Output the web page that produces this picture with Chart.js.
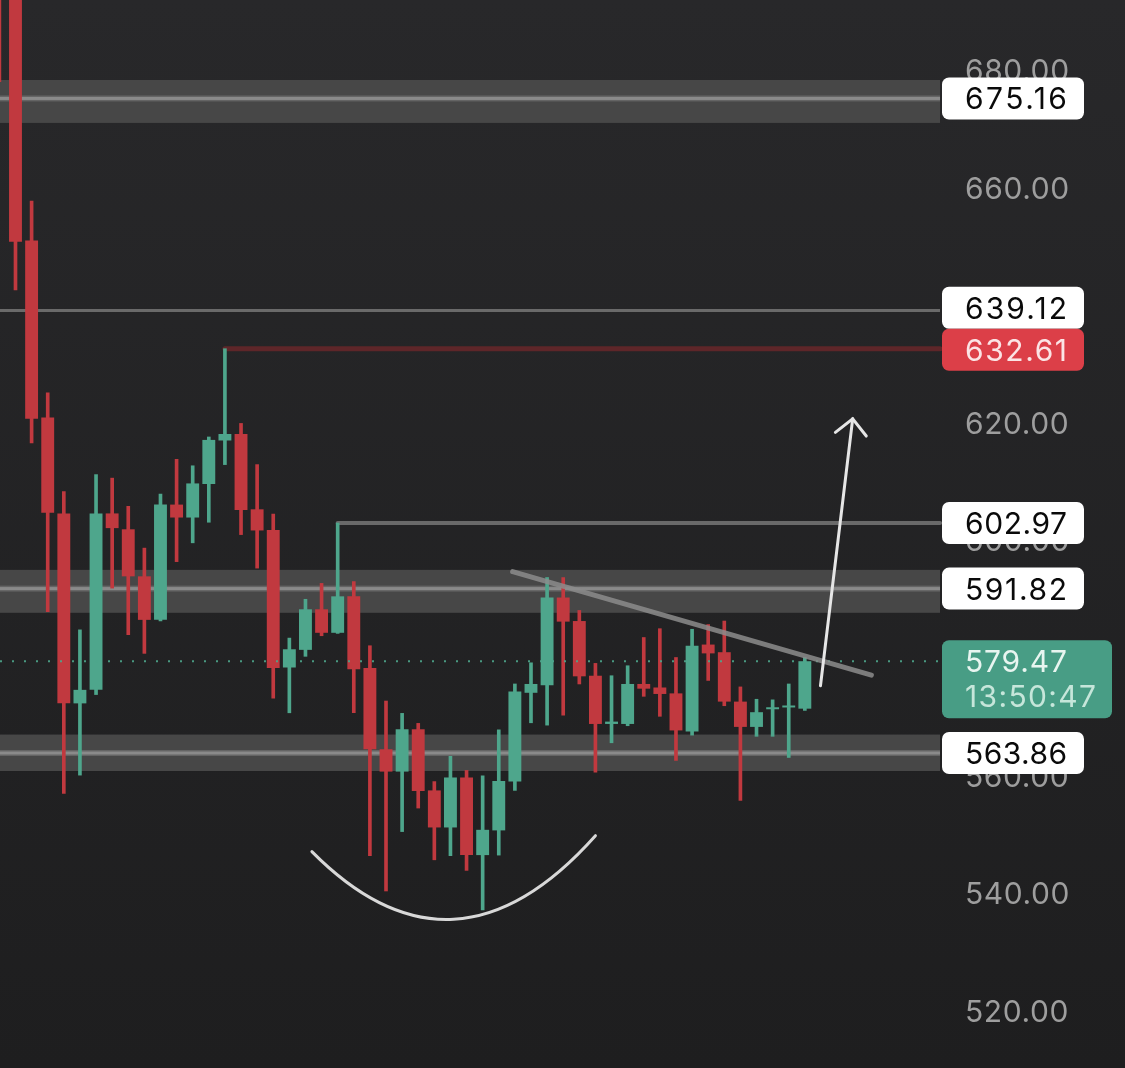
<!DOCTYPE html>
<html>
<head>
<meta charset="utf-8">
<script src="https://cdn.jsdelivr.net/npm/chart.js@4.4.1/dist/chart.umd.min.js"></script>
<style>
  html, body { margin: 0; padding: 0; background: #222223; overflow: hidden; }
  #wrap { width: 1125px; height: 1068px; position: relative; }
</style>
</head>
<body>
<div id="wrap"><canvas id="c"></canvas></div>
<script>
// ---- candle data (index, open, high, low, close) ----
const idx    = [-1, 0, 1, 2, 3, 4, 5, 6, 7, 8, 9, 10, 11, 12, 13, 14, 15, 16, 17, 18, 19, 20, 21, 22, 23, 24, 25, 26, 27, 28, 29, 30, 31, 32, 33, 34, 35, 36, 37, 38, 39, 40, 41, 42, 43, 44, 45, 46, 47, 48, 49];
const opens  = [712, 700, 651.0, 620.9, 604.6, 572.3, 574.6, 604.6, 601.9, 593.9, 586.5, 606.1, 603.9, 609.6, 617.0, 618.1, 605.3, 601.8, 578.4, 581.4, 588.3, 584.3, 590.5, 578.3, 564.5, 560.7, 567.9, 557.5, 551.2, 559.7, 546.5, 550.7, 559.0, 574.1, 575.4, 590.3, 586.3, 577.0, 568.8, 568.8, 575.6, 575.0, 574.0, 567.5, 582.3, 581.0, 572.6, 568.3, 571.3, 571.6, 571.4];
const highs  = [715, 704, 657.7, 625.1, 608.3, 584.8, 611.2, 610.6, 605.8, 598.7, 607.9, 613.8, 612.7, 617.6, 632.61, 619.9, 612.9, 604.5, 583.4, 590.0, 592.7, 602.97, 593.0, 582.1, 572.7, 570.6, 568.9, 559.0, 563.3, 560.9, 560.0, 567.8, 575.6, 579.2, 593.7, 593.7, 588.1, 579.1, 577.0, 578.7, 583.5, 585.0, 580.1, 584.9, 585.7, 586.3, 575.1, 573.0, 572.9, 575.6, 580.1];
const lows   = [678, 642.6, 616.6, 587.9, 557.0, 560.1, 573.8, 591.9, 584.0, 580.8, 586.3, 596.4, 599.6, 603.1, 612.9, 601.0, 595.3, 573.2, 570.7, 580.3, 583.8, 584.2, 570.7, 546.4, 540.4, 550.5, 554.5, 545.7, 546.4, 543.9, 537.2, 546.5, 557.5, 569.0, 568.6, 570.3, 575.6, 560.6, 565.6, 568.5, 573.5, 570.1, 562.6, 566.9, 576.2, 571.9, 555.8, 566.7, 566.7, 563.1, 571.1];
const closes = [705, 650.8, 620.7, 604.7, 572.3, 574.6, 604.6, 602.1, 593.9, 586.5, 606.1, 603.9, 609.7, 617.1, 618.1, 605.2, 601.7, 578.3, 581.5, 588.3, 584.3, 590.5, 578.1, 564.5, 560.7, 567.9, 557.4, 551.2, 559.7, 546.5, 550.8, 559.1, 574.3, 575.6, 590.3, 586.2, 576.9, 568.8, 569.2, 575.6, 574.8, 573.9, 567.7, 582.1, 580.8, 572.6, 568.3, 570.8, 571.5, 571.8, 579.47];

// ---- axis ticks ----
const tickValues = [520, 540, 560, 580, 600, 620, 640, 660, 680];

// ---- horizontal zones / levels ----
const zoneTop    = [678.3, 595.0, 567.0];
const zoneBottom = [671.0, 587.7, 560.8];
const zoneMid    = [675.16, 591.82, 563.86];
const fullLevels = [639.12];
const redLevel = 632.61, redLevelFrom = 13;
const grayLevel = 602.97, grayLevelFrom = 20;
const lastPrice = 579.47;
const countdown = '13:50:47';

// ---- price labels on the axis ----
const labelValues = [675.16, 639.12, 632.61, 602.97, 591.82, 563.86];
const labelKinds  = ['w', 'w', 'r', 'w', 'w', 'w'];

// ---- drawings ----
const trendX = [30.86, 53.13], trendY = [594.7, 577.1];
const cupX = [18.4, 27.2, 36.0], cupY = [547.1, 535.6, 549.8];
const arrowX = [49.97, 51.97], arrowY = [575.3, 620.7];

const GREEN = '#4ea68c', RED = '#c1393f';
const FONT = 'Inter, "Noto Sans", sans-serif';

const candleColor = ctx => (closes[ctx.dataIndex] >= opens[ctx.dataIndex] ? GREEN : RED);

const wickData = idx.map((x, i) => ({ x: x, y: [lows[i], highs[i]] }));
const bodyData = idx.map((x, i) => ({ x: x, y: [opens[i], closes[i]] }));

function fitText(c, text, x, y, target) {
  c.letterSpacing = '0px';
  const w = c.measureText(text).width;
  const s = Math.max(0, (target - w) / (text.length - 1));
  c.letterSpacing = s.toFixed(2) + 'px';
  c.fillText(text, x, y);
  c.letterSpacing = '0px';
}

const overlay = {
  id: 'overlay',
  beforeDraw(chart) {
    const c = chart.ctx, W = chart.width, H = chart.height;
    const g = c.createLinearGradient(0, 0, 0, H);
    g.addColorStop(0, '#28282a');
    g.addColorStop(1, '#1e1e1f');
    c.save(); c.fillStyle = g; c.fillRect(0, 0, W, H); c.restore();
    c.letterSpacing = '0.6px';
  },
  beforeDatasetsDraw(chart) {
    const c = chart.ctx, y = chart.scales.y, x = chart.scales.x, a = chart.chartArea;
    c.save();
    // zones
    for (let i = 0; i < zoneTop.length; i++) {
      const t = y.getPixelForValue(zoneTop[i]), b = y.getPixelForValue(zoneBottom[i]);
      c.fillStyle = '#474747';
      c.fillRect(a.left, t, a.right - a.left, b - t);
      const m = y.getPixelForValue(zoneMid[i]);
      c.fillStyle = 'rgba(120,120,120,0.6)';
      c.fillRect(a.left, m - 3, a.right - a.left, 6);
      c.fillStyle = '#8a8a8a';
      c.fillRect(a.left, m - 1.5, a.right - a.left, 3);
    }
    // full-width levels
    c.lineCap = 'butt';
    fullLevels.forEach(v => {
      const p = y.getPixelForValue(v);
      c.strokeStyle = '#6a6a6a'; c.lineWidth = 3;
      c.beginPath(); c.moveTo(a.left, p); c.lineTo(a.right, p); c.stroke();
    });
    // red level
    c.lineCap = 'round';
    let p = y.getPixelForValue(redLevel);
    c.strokeStyle = '#5e2629'; c.lineWidth = 5;
    c.beginPath(); c.moveTo(x.getPixelForValue(redLevelFrom), p); c.lineTo(a.right, p); c.stroke();
    // gray level
    p = y.getPixelForValue(grayLevel);
    c.strokeStyle = '#696969'; c.lineWidth = 4;
    c.beginPath(); c.moveTo(x.getPixelForValue(grayLevelFrom), p); c.lineTo(a.right, p); c.stroke();
    c.restore();
  },
  afterDatasetsDraw(chart) {
    const c = chart.ctx, y = chart.scales.y, x = chart.scales.x, a = chart.chartArea;
    c.save();
    // dotted last price line
    let p = y.getPixelForValue(lastPrice);
    c.strokeStyle = 'rgba(78,166,140,0.9)'; c.lineWidth = 2; c.setLineDash([2, 10]);
    c.beginPath(); c.moveTo(a.left, p); c.lineTo(a.right, p); c.stroke();
    c.setLineDash([]);
    // trend line
    c.lineCap = 'round';
    c.strokeStyle = 'rgba(140,140,140,0.85)'; c.lineWidth = 5;
    c.beginPath();
    c.moveTo(x.getPixelForValue(trendX[0]), y.getPixelForValue(trendY[0]));
    c.lineTo(x.getPixelForValue(trendX[1]), y.getPixelForValue(trendY[1]));
    c.stroke();
    // cup curve
    const p0 = [x.getPixelForValue(cupX[0]), y.getPixelForValue(cupY[0])];
    const pm = [x.getPixelForValue(cupX[1]), y.getPixelForValue(cupY[1])];
    const p2 = [x.getPixelForValue(cupX[2]), y.getPixelForValue(cupY[2])];
    const cp = [2 * pm[0] - (p0[0] + p2[0]) / 2, 2 * pm[1] - (p0[1] + p2[1]) / 2];
    c.strokeStyle = '#d8d8d8'; c.lineWidth = 3;
    c.beginPath(); c.moveTo(p0[0], p0[1]); c.quadraticCurveTo(cp[0], cp[1], p2[0], p2[1]); c.stroke();
    // arrow
    const bx = x.getPixelForValue(arrowX[0]), by = y.getPixelForValue(arrowY[0]);
    const tx = x.getPixelForValue(arrowX[1]), ty = y.getPixelForValue(arrowY[1]);
    c.strokeStyle = '#e6e6e6'; c.lineWidth = 3;
    c.beginPath(); c.moveTo(bx, by); c.lineTo(tx, ty); c.stroke();
    const len = Math.hypot(tx - bx, ty - by);
    const ux = (bx - tx) / len, uy = (by - ty) / len;
    const r = Math.PI / 4, L = 22;
    const w1 = [ux * Math.cos(r) - uy * Math.sin(r), ux * Math.sin(r) + uy * Math.cos(r)];
    const w2 = [ux * Math.cos(-r) - uy * Math.sin(-r), ux * Math.sin(-r) + uy * Math.cos(-r)];
    c.beginPath();
    c.moveTo(tx + w1[0] * L, ty + w1[1] * L); c.lineTo(tx, ty); c.lineTo(tx + w2[0] * L, ty + w2[1] * L);
    c.stroke();
    c.restore();
  },
  afterDraw(chart) {
    const c = chart.ctx, y = chart.scales.y;
    const bx = 942, bw = 142, bh = 42, rad = 7;
    c.save();
    c.font = '30px ' + FONT;
    c.textBaseline = 'middle';
    c.textAlign = 'left';
    // resolve overlaps
    const items = labelValues.map((v, i) => ({ v, kind: labelKinds[i], cy: y.getPixelForValue(v) }));
    items.sort((a, b) => a.cy - b.cy);
    for (let i = items.length - 1; i > 0; i--) {
      const lower = items[i], upper = items[i - 1];
      const ov = (upper.cy + bh / 2) - (lower.cy - bh / 2);
      if (ov > 0) { upper.cy -= ov * 0.7; lower.cy += ov * 0.3; }
    }
    items.forEach(it => {
      c.fillStyle = it.kind === 'r' ? '#dc3f48' : '#ffffff';
      c.beginPath(); c.roundRect(bx, it.cy - bh / 2, bw, bh, rad); c.fill();
      c.fillStyle = it.kind === 'r' ? '#fbe4e5' : '#0a0a0a';
      fitText(c, it.v.toFixed(2), 965, it.cy + 2, 102);
    });
    // last price box
    const lp = y.getPixelForValue(lastPrice);
    c.fillStyle = '#489d85';
    c.beginPath(); c.roundRect(bx, lp - 21, 170, 78, rad); c.fill();
    c.fillStyle = '#e8f5f0';
    fitText(c, lastPrice.toFixed(2), 965, lp + 2, 102);
    c.fillStyle = '#c6e6da';
    fitText(c, countdown, 965, lp + 37, 131);
    c.restore();
  }
};

new Chart(document.getElementById('c'), {
  type: 'bar',
  data: {
    datasets: [
      { label: 'wick', data: wickData, backgroundColor: candleColor, borderWidth: 0, barThickness: 3, grouped: false, order: 2 },
      { label: 'body', data: bodyData, backgroundColor: candleColor, borderWidth: 0, barPercentage: 0.8, categoryPercentage: 1, grouped: false, minBarLength: 2, order: 1 }
    ]
  },
  options: {
    responsive: true,
    maintainAspectRatio: false,
    animation: false,
    events: [],
    layout: { padding: 0 },
    plugins: { legend: { display: false }, tooltip: { enabled: false }, title: { display: false } },
    scales: {
      x: { type: 'linear', min: -0.962, max: 57.39, display: false, offset: false },
      y: {
        type: 'linear', position: 'right', min: 510.3, max: 691.9,
        grid: { display: false, drawTicks: false },
        border: { display: false },
        afterBuildTicks: s => { s.ticks = tickValues.map(v => ({ value: v })); },
        afterFit: s => { s.width = 185; s.paddingTop = 0; s.paddingBottom = 0; },
        ticks: {
          padding: 25, color: '#9e9e9e', autoSkip: false, labelOffset: 2,
          font: { family: FONT, size: 30 },
          callback: v => Number(v).toFixed(2)
        }
      }
    }
  },
  plugins: [overlay]
});
</script>
</body>
</html>
